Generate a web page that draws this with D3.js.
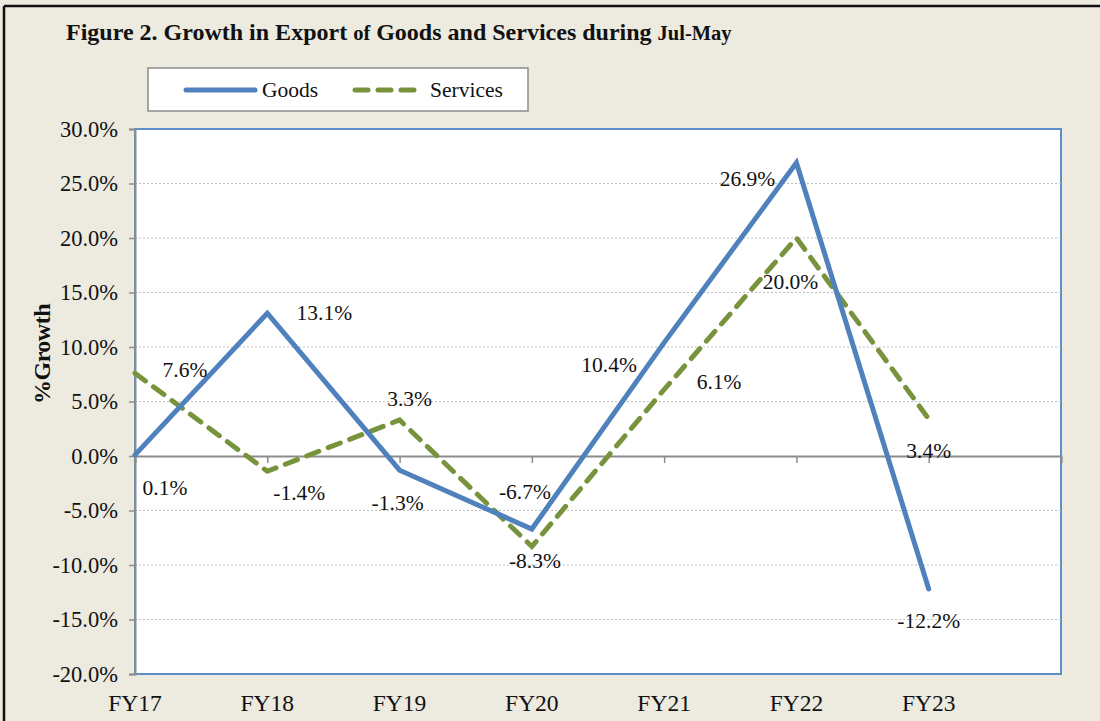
<!DOCTYPE html>
<html>
<head>
<meta charset="utf-8">
<script src="https://d3js.org/d3.v7.min.js"></script>
<style>
  body { margin: 0; background: #ffffff; }
  svg { display: block; font-family: "Liberation Serif", "Times New Roman", serif; }
</style>
</head>
<body>
<svg id="chart" width="1100" height="721"></svg>
<script>
// data
var years = ["FY17", "FY18", "FY19", "FY20", "FY21", "FY22", "FY23"];
var goods = [0.1, 13.1, -1.3, -6.7, 10.4, 26.9, -12.2];
var services = [7.6, -1.4, 3.3, -8.3, 6.1, 20.0, 3.4];
var yTicks = [-20, -15, -10, -5, 0, 5, 10, 15, 20, 25, 30];

// label nudges (px) relative to each point
var goodsLabelOffset = [[30, 40], [57, 7], [-2, 40], [-7, -30], [-55, 29], [-49, 23], [0, 39]];
var servicesLabelOffset = [[50, 4], [32, 29], [10, -14], [3, 22], [55, -1], [-6, 51], [0, 39]];

var svg = d3.select("#chart");
var W = 1100, H = 721;

// background + outer frame
svg.append("rect").attr("x", 0).attr("y", 0).attr("width", W).attr("height", H).attr("fill", "#EDEAE0");
svg.append("line").attr("x1", 4).attr("x2", W).attr("y1", 6).attr("y2", 6).attr("stroke", "#111").attr("stroke-width", 2.5);
svg.append("line").attr("x1", 4).attr("x2", 4).attr("y1", 6).attr("y2", H).attr("stroke", "#111").attr("stroke-width", 2.5);

// title
var title = svg.append("text").attr("x", 66).attr("y", 40).attr("font-weight", "bold").attr("font-size", 24).attr("fill", "#111");
title.append("tspan").text("Figure 2. Growth in Export ");
title.append("tspan").attr("font-size", 20.5).text("of");
title.append("tspan").text(" Goods and Services during ");
title.append("tspan").attr("font-size", 20.5).text("Jul-May");

// plot area
var plot = { left: 135, right: 1061, top: 129, bottom: 674 };

var x = d3.scaleLinear().domain([0, years.length]).range([plot.left, plot.right]);
var y = d3.scaleLinear().domain([-20, 30]).range([plot.bottom, plot.top]);

svg.append("rect")
  .attr("x", plot.left).attr("y", plot.top)
  .attr("width", plot.right - plot.left).attr("height", plot.bottom - plot.top)
  .attr("fill", "#fff").attr("stroke", "#5F8FCB").attr("stroke-width", 2);

// gridlines
svg.append("g").selectAll("line")
  .data(yTicks.filter(function (d) { return d !== 0 && d !== 30 && d !== -20; }))
  .enter().append("line")
  .attr("x1", plot.left).attr("x2", plot.right)
  .attr("y1", function (d) { return y(d); }).attr("y2", function (d) { return y(d); })
  .attr("stroke", "#BEBEBE").attr("stroke-width", 1).attr("stroke-dasharray", "2,2");

// y axis
var yAxis = svg.append("g")
  .attr("transform", "translate(" + plot.left + ",0)")
  .call(d3.axisLeft(y).tickValues(yTicks).tickSize(6).tickPadding(11)
    .tickFormat(function (d) { return d.toFixed(1) + "%"; }));
yAxis.select(".domain").attr("stroke", "#8C8C8C").attr("stroke-width", 2);
yAxis.selectAll(".tick line").attr("stroke", "#8C8C8C").attr("stroke-width", 1.5);
yAxis.selectAll(".tick text").attr("font-size", 22.5).attr("fill", "#111")
  .attr("font-family", "Liberation Serif, Times New Roman, serif");

// zero line with tick marks
var xAxis = svg.append("g")
  .attr("transform", "translate(0," + y(0) + ")")
  .call(d3.axisBottom(x).tickValues(d3.range(1, years.length + 1)).tickSize(7).tickFormat(""));
xAxis.select(".domain").attr("stroke", "#8C8C8C").attr("stroke-width", 2.2);
xAxis.selectAll(".tick line").attr("stroke", "#8C8C8C").attr("stroke-width", 1.5);

// category labels at the bottom
svg.append("g").selectAll("text")
  .data(years).enter().append("text")
  .attr("x", function (d, i) { return x(i); })
  .attr("y", 711)
  .attr("text-anchor", "middle")
  .attr("font-size", 23.5).attr("fill", "#111")
  .text(function (d) { return d; });

// y title
svg.append("text")
  .attr("transform", "translate(50,354) rotate(-90)")
  .attr("text-anchor", "middle")
  .attr("font-size", 24).attr("font-weight", "bold").attr("fill", "#111")
  .attr("letter-spacing", -0.5)
  .text("%Growth");

// lines
var line = d3.line().x(function (d, i) { return x(i); }).y(function (d) { return y(d); });

svg.append("path").datum(services)
  .attr("d", line).attr("fill", "none")
  .attr("stroke", "#77933C").attr("stroke-width", 5)
  .attr("stroke-dasharray", "13,10").attr("stroke-linecap", "round");

svg.append("path").datum(goods)
  .attr("d", line).attr("fill", "none")
  .attr("stroke", "#4F81BD").attr("stroke-width", 5)
  .attr("stroke-linejoin", "miter").attr("stroke-linecap", "round");

// data labels
function addLabels(values, offsets) {
  svg.append("g").selectAll("text")
    .data(values).enter().append("text")
    .attr("x", function (d, i) { return x(i) + offsets[i][0]; })
    .attr("y", function (d, i) { return y(d) + offsets[i][1]; })
    .attr("text-anchor", "middle")
    .attr("font-size", 21.5).attr("fill", "#111")
    .text(function (d) { return d.toFixed(1) + "%"; });
}
addLabels(services, servicesLabelOffset);
addLabels(goods, goodsLabelOffset);

// legend
var lg = svg.append("g");
lg.append("rect").attr("x", 148).attr("y", 68).attr("width", 380).attr("height", 43)
  .attr("fill", "#fff").attr("stroke", "#8C8C8C").attr("stroke-width", 1.5);
lg.append("line").attr("x1", 186).attr("x2", 255).attr("y1", 90).attr("y2", 90)
  .attr("stroke", "#4F81BD").attr("stroke-width", 5).attr("stroke-linecap", "round");
lg.append("text").attr("x", 262).attr("y", 97).attr("font-size", 21.5).attr("fill", "#111").text("Goods");
lg.append("line").attr("x1", 355).attr("x2", 416).attr("y1", 90).attr("y2", 90)
  .attr("stroke", "#77933C").attr("stroke-width", 5).attr("stroke-linecap", "round")
  .attr("stroke-dasharray", "13,10");
lg.append("text").attr("x", 430).attr("y", 97).attr("font-size", 21.5).attr("fill", "#111").text("Services");
</script>
</body>
</html>
